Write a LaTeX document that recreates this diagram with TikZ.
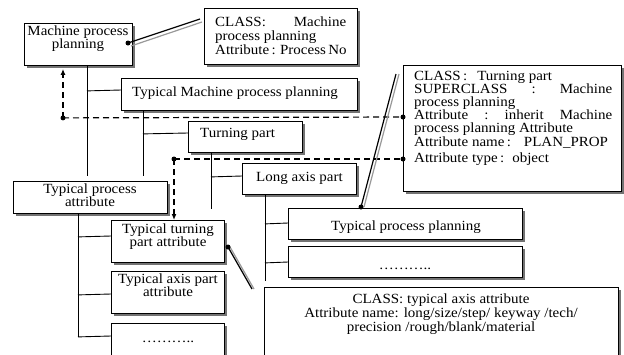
\documentclass[tikz,border=0pt]{standalone}
\usepackage{fontspec}
\setmainfont{Liberation Serif}[FakeStretch=1.07]
\usetikzlibrary{calc,arrows.meta}
\newcommand{\mtext}[2]{\begin{minipage}[t]{#1}#2\end{minipage}}
\tikzset{
  box/.style={draw=black, line width=0.9pt, fill=white, anchor=north west, inner sep=0pt},
  boxshadow/.style={fill=black!55},
  tx/.style={anchor=base west, inner sep=0pt, font=\fontsize{14}{13.5}\selectfont},
  txc/.style={tx, anchor=base},
  tree/.style={line width=0.9pt},
  dashline/.style={line width=1.2pt, dash pattern=on 6pt off 4pt},
  callout/.style={line width=1.2pt},
  calloutsh/.style={line width=1.2pt, draw=black!40},
  dot/.style={circle, fill=black, draw=none, inner sep=0pt, minimum size=5pt},
  arr/.style={-{Latex[length=6pt,width=5pt]}},
}
% name, x, y, width, height
\newcommand{\mybox}[5]{%
  \fill[boxshadow] (#2+3,#3+3) rectangle ++(#4,#5);
  \node[box, minimum width=#4pt, minimum height=#5pt] (#1) at (#2,#3) {};}
\begin{document}
\begin{tikzpicture}[x=1pt,y=-1pt]
\useasboundingbox (0,0) rectangle (624,354);
\clip (0,0) rectangle (624,354);

% boxes
\mybox{mpp}{24}{23}{108}{42}
\mybox{cls1}{204}{8}{153}{56}
\mybox{tmpp}{121}{78}{236}{32}
\mybox{turn}{188}{121}{114}{31}
\mybox{long}{242}{163}{114}{31}
\mybox{cls2}{403}{65}{218}{126}
\mybox{tpa}{13}{181}{154}{32}
\mybox{ttpa}{111}{220}{113}{42}
\mybox{tapa}{111}{271}{113}{42}
\mybox{dots1}{111}{323}{113}{42}
\mybox{tpp}{288}{208}{234}{31}
\mybox{dots2}{288}{246}{234}{31}
\mybox{cls3}{264}{287}{354}{80}

% texts
\node[txc] (mppt) at (78,35) {\mtext{108pt}{\centering Machine process\\planning}};
\node[tx] (cls1t) at (215,26) {\mtext{131pt}{\fontsize{14}{14}\selectfont
  CLASS:\hfill Machine\\
  process planning\\
  \makebox[131pt][s]{Attribute\,: Process No}}};
\node[tx] (tmppt) at (132,96) {Typical Machine process planning};
\node[tx] (turnt) at (200,137) {Turning part};
\node[tx] (longt) at (256,181) {Long axis part};
\node[tx] (cls2t) at (414,80) {\mtext{198pt}{\fontsize{14}{13.2}\selectfont
  CLASS\,:\hspace{10pt}Turning part\\
  SUPERCLASS\hfill:\hfill Machine\\
  process planning\\
  Attribute\hfill:\hfill inherit\hfill Machine\\
  process planning Attribute\\
  Attribute name\,:\hspace{13pt}PLAN\_PROP\\[3pt]
  Attribute type\,:\hspace{8pt}object}};
\node[txc] (tpat) at (90,193) {\mtext{154pt}{\centering Typical process\\attribute}};
\node[txc] (ttpat) at (168,233) {\mtext{113pt}{\centering Typical turning\\part attribute}};
\node[txc] (tapat) at (168,283) {\mtext{113pt}{\centering Typical axis part\\attribute}};
\node[txc] (dots1t) at (168,342) {………..};
\node[txc] (tppt) at (406,230) {Typical process planning};
\node[txc] (dots2t) at (405,269) {………..};
\node[txc] (cls3t) at (441,303) {\mtext{354pt}{\centering\fontsize{14}{14}\selectfont
  CLASS: typical axis attribute\\
  Attribute name: long/size/step/ keyway /tech/\\
  precision /rough/blank/material}};

% tree connectors
\draw[tree] ($(mpp.south west)+(63,0)$) -- ++(0,110);
\draw[tree] ($(mpp.south west)+(63,25)$) -- ($(tmpp.north west)+(0,12)$);
\draw[tree] ($(tmpp.south west)+(22,0)$) -- ++(0,65);
\draw[tree] ($(tmpp.south west)+(22,23)$) -- ($(turn.north west)+(0,12)$);
\draw[tree] ($(turn.south west)+(23,0)$) -- ++(0,56);
\draw[tree] ($(turn.south west)+(23,24)$) -- ($(long.north west)+(0,13)$);
\draw[tree] ($(long.south west)+(23,0)$) -- ++(0,86);
\draw[tree] ($(long.south west)+(23,29)$) -- ($(tpp.north west)+(0,15)$);
\draw[tree] ($(long.south west)+(23,68)$) -- ($(dots2.north west)+(0,16)$);
\draw[tree] ($(tpa.south west)+(65,0)$) -- ++(0,123);
\draw[tree] ($(tpa.south west)+(65,23)$) -- ($(ttpa.north west)+(0,16)$);
\draw[tree] ($(tpa.south west)+(65,81)$) -- ($(tapa.north west)+(0,23)$);
\draw[tree] ($(tpa.south west)+(65,123)$) -- ($(dots1.north west)+(0,13)$);

% dashed links
\coordinate (d1) at ($(mpp.south west)+(39,52)$);
\coordinate (d2) at ($(ttpa.north west)+(63,-61)$);
\draw[dashline] (d1) -- ($(cls2.north west)+(0,52)$) node[dot] (d1e) {};
\draw[dashline, arr] (d1) -- ($(mpp.south west)+(39,3)$);
\draw[dashline] (d2) -- ($(cls2.north west)+(0,94)$) node[dot] (d2e) {};
\draw[dashline, arr] (d2) -- (d2 |- ttpa.north);
\node[dot] (d1s) at (d1) {};
\node[dot] (d2s) at (d2) {};

% callouts
\draw[calloutsh] ($(mpp.north west)+(107,23)$) -- ($(cls1.north west)+(-2,14)$);
\draw[callout] ($(mpp.north west)+(104,20)$) node[dot] (c1) {} -- ($(cls1.north west)+(-4,11)$);
\draw[calloutsh] ($(tpp.north west)+(76,-1)$) -- ($(cls2.north west)+(-4,9)$);
\draw[callout] ($(tpp.north west)+(73,-1)$) node[dot] (c2) {} -- ($(cls2.north west)+(-7,9)$);
\draw[calloutsh] ($(ttpa.north west)+(119,27)$) -- ($(cls3.north west)+(-10,2)$);
\draw[callout] ($(ttpa.north west)+(117,27)$) node[dot] (c3) {} -- ($(cls3.north west)+(-12,2)$);
\end{tikzpicture}
\end{document}
